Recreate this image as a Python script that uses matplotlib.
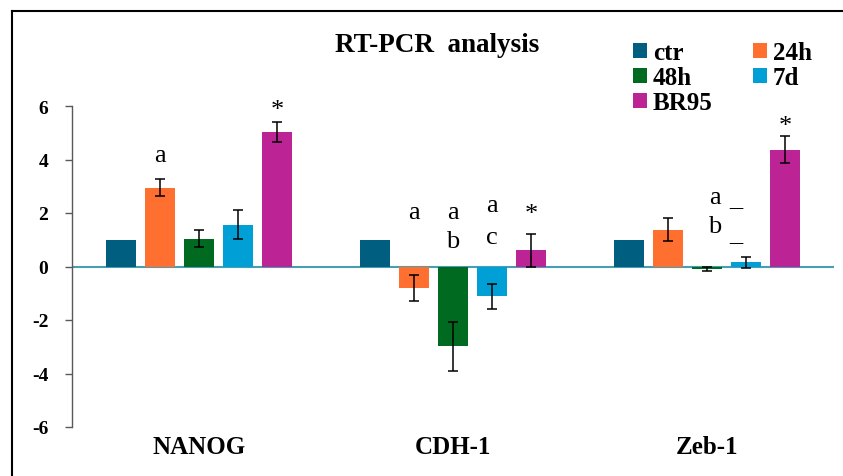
import matplotlib
matplotlib.use("Agg")
import matplotlib.pyplot as plt
import numpy as np
from matplotlib.lines import Line2D

genes = ["NANOG", "CDH-1", "Zeb-1"]
series = ["ctr", "24h", "48h", "7d", "BR95"]
colors = ["#005E80", "#FF7030", "#006B20", "#00A0D6", "#BC2394"]

values = {
    "ctr":  [1.0, 1.0, 1.0],
    "24h":  [2.95, -0.80, 1.38],
    "48h":  [1.04, -2.98, -0.10],
    "7d":   [1.57, -1.12, 0.15],
    "BR95": [5.04, 0.60, 4.36],
}
errors = {
    "ctr":  [0.0, 0.0, 0.0],
    "24h":  [0.32, 0.49, 0.43],
    "48h":  [0.32, 0.92, 0.08],
    "7d":   [0.55, 0.48, 0.19],
    "BR95": [0.37, 0.63, 0.50],
}

yticks = [-6, -4, -2, 0, 2, 4, 6]

# annotations: text, gene index, series index, y value, x shift (in bar steps)
ann_text   = ["a", "*", "a", "a", "b", "a", "c", "*", "a", "_", "b", "_", "*"]
ann_gene   = [0, 0, 1, 1, 1, 1, 1, 1, 2, 2, 2, 2, 2]
ann_series = [1, 4, 1, 2, 2, 3, 3, 4, 2, 3, 2, 3, 4]
ann_y      = [4.15, 5.85, 2.05, 2.05, 0.95, 2.30, 1.10, 1.95, 2.60, 2.55, 1.50, 1.25, 5.25]
ann_dx     = [0, 0, 0, 0, 0, 0, 0, 0, 0.2, -0.25, 0.2, -0.25, 0]

serif = "Liberation Serif"

fig = plt.figure(figsize=(8.43, 4.77), dpi=100)
ax = fig.add_axes([72/843, 1 - 428/477, (834-72)/843, (428-107)/477])

x = np.arange(len(genes))
step = 0.1535
width = 0.118
handles = []
for i, s in enumerate(series):
    pos = x + (i - 2) * step
    b = ax.bar(pos, values[s], width, color=colors[i], zorder=2)
    err = np.array(errors[s])
    mask = err > 0
    if mask.any():
        ax.errorbar(pos[mask], np.array(values[s])[mask], yerr=err[mask], fmt="none",
                    ecolor="black", elinewidth=1.1, capsize=3.5, capthick=1.1, zorder=3)
    handles.append(b)

for t, g, si, yv, dx in zip(ann_text, ann_gene, ann_series, ann_y, ann_dx):
    xp = g + (si - 2 + dx) * step
    ax.text(xp, yv, t, ha="center", va="center", fontsize=19, family=serif, color="black")

ax.axhline(0, color="#4A9DB3", lw=1.5, zorder=1)
ax.set_xlim(-0.5, 2.5)
ax.set_ylim(-6, 6)
ax.set_yticks(yticks)
ax.set_yticklabels([str(v) for v in yticks], fontsize=14, fontweight="bold", family=serif)
ax.set_xticks(x)
ax.set_xticklabels(genes, fontsize=18, fontweight="bold", family=serif)
ax.tick_params(axis="x", length=0, pad=6)
ax.tick_params(axis="y", direction="out", length=5, width=1, color="#595959", pad=12)
for sp in ["top", "right", "bottom"]:
    ax.spines[sp].set_visible(False)
ax.spines["left"].set_color("#595959")
ax.spines["left"].set_linewidth(1)

fig.text(437/843, 1 - 45/477, "RT-PCR  analysis", ha="center", va="center",
         fontsize=19.5, fontweight="bold", family=serif)

order = [0, 2, 4, 1, 3]
leg = fig.legend([handles[i] for i in order], [series[i] for i in order],
                 ncol=2, loc="upper left", bbox_to_anchor=(633/843, 1 - 42/477),
                 frameon=False, prop={"family": serif, "weight": "bold", "size": 18},
                 handlelength=0.55, handleheight=0.55, handletextpad=0.25,
                 columnspacing=1.6, labelspacing=0.08, borderpad=0, borderaxespad=0)

# outer frame (left and top edges)
fig.add_artist(Line2D([12/843, 12/843], [0, 1 - 12/477], color="black", lw=1.5,
                      transform=fig.transFigure))
fig.add_artist(Line2D([12/843, 1], [1 - 12/477, 1 - 12/477], color="black", lw=1.5,
                      transform=fig.transFigure))

fig.savefig("out.png", dpi=100)
